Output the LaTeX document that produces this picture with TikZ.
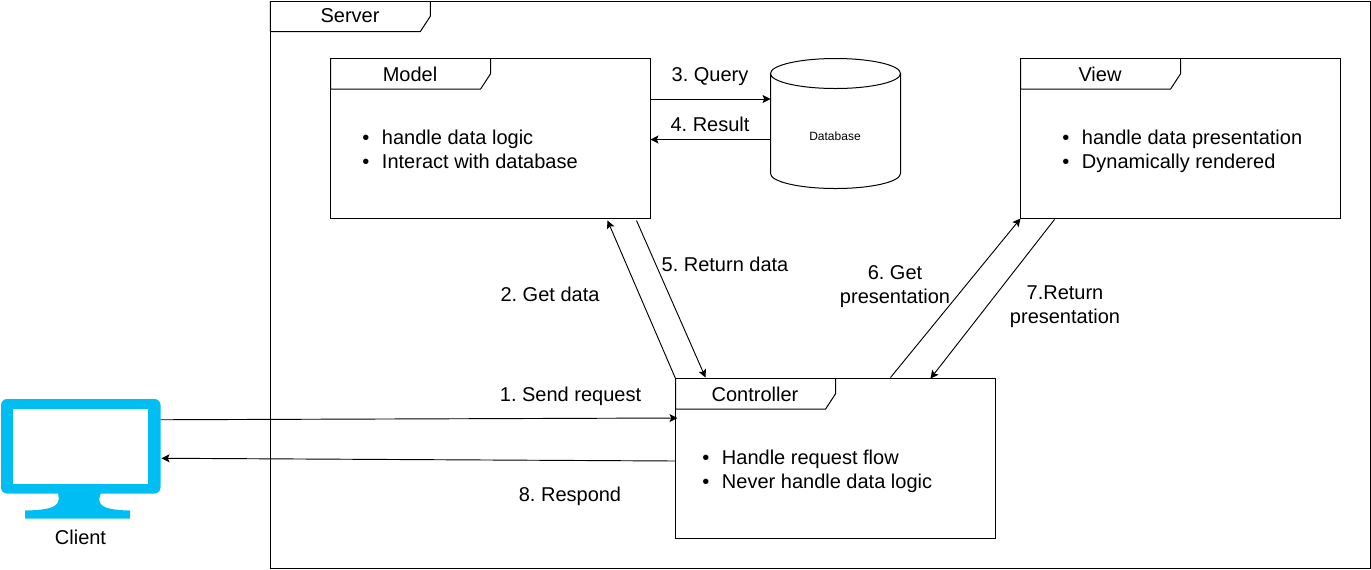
\documentclass[tikz,border=0pt]{standalone}
\usepackage{fontspec}
\setmainfont{Liberation Sans}
\usepackage{tikz}
\usetikzlibrary{calc, positioning}
\usetikzlibrary{shapes.geometric, arrows.meta}
\definecolor{ClientBlue}{HTML}{00BEF2}
\frenchspacing
\tikzset{
    lbl/.style={align=center, inner sep=0pt, font=\fontsize{15pt}{18pt}\selectfont},
    bullets/.style={align=left, anchor=west, inner sep=0pt, font=\fontsize{15pt}{18pt}\selectfont},
    framebox/.style={draw, line width=0.75pt, inner sep=0pt, outer sep=0pt, minimum width=240pt, minimum height=120pt},
    tab/.style={line width=0.75pt},
    link/.style={line width=0.7pt, -{Stealth[length=6pt, width=6pt, inset=1.3pt]}},
}
\newcommand{\frametab}[2][120pt]{
    % tab in the upper left corner of a frame
    \draw[tab] ($(#2.north west)+(#1,0)$) -- ++(0,-11.5pt) -- ++(-7.5pt,-11.5pt) -| (#2.north west);
}
\newcommand{\twoitems}[2]{\textbullet\hspace{9.4pt}#1\strut\\\textbullet\hspace{9.4pt}#2\strut}
\begin{document}
\begin{tikzpicture}[x=0.75pt, y=-0.75pt]
            \useasboundingbox (0,0) rectangle (1371,569);
            % frames
            \node[framebox, minimum width=825pt, minimum height=425.25pt] (server) at (820.25,284.5) {};
            \node[framebox] (model) at (490.5,138.5) {};
            \node[framebox] (view) at (1180.5,138.5) {};
            \node[framebox] (controller) at (835.5,458.5) {};
            \foreach \f in {server, model, view, controller} {
                \frametab{\f}
            }
            \node[lbl] (serverlabel) at (350,16) {Server};
            \node[lbl] (modellabel) at (410,74) {Model};
            \node[lbl] (viewlabel) at (1100,74) {View};
            \node[lbl] (controllerlabel) at (755,394) {Controller};
            \node[bullets] (modeltext) at (362.2,151.5) {\twoitems{handle data logic}{Interact with database}};
            \node[bullets] (viewtext) at (1062.2,151.5) {\twoitems{handle data presentation}{Dynamically rendered}};
            \node[bullets] (controllertext) at (702.2,471.5) {\twoitems{Handle request flow}{Never handle data logic}};
            % database
            \node[inner sep=0pt, outer sep=0pt, minimum width=97.5pt, minimum height=97.5pt] (database) at (835.5,123.5) {};
            \draw[line width=0.75pt] (770.5,73.5) -- (770.5,173.5) arc[start angle=180, end angle=360, x radius=65, y radius=-15]
                -- (900.5,73.5) arc[start angle=0, end angle=180, x radius=65, y radius=-15]
                arc[start angle=180, end angle=360, x radius=65, y radius=-15];
            \node[inner sep=0pt, font=\fontsize{9pt}{10pt}\selectfont] (databaselabel) at (835,136) {Database};
            % client
            \begin{scope}[ClientBlue]
                \fill[rounded corners=4.5pt] (1,399) rectangle (160.5,493.5);
                \fill[white] (12.5,408.5) rectangle (148,484);
                \fill (58,493) .. controls (60,503) and (60,510) .. (25,510.5) -- (25,518.5) -- (130,518.5) -- (130,510.5)
                    .. controls (98,510) and (97,503) .. (101,493) -- cycle;
                \node[draw=none, inner sep=0pt, minimum width=119.25pt, minimum height=70.5pt] (client) at (80.75,446.25) {};
            \end{scope}
            \node[lbl] (clientlabel) at (80.5,537) {Client};
            % connectors
            \draw[link] ($(client.east)+(0,-26.5)$) -- ($(controller.west)+(2,-40.5)$);
            \draw[link] ($(controller.west)+(0,2.5)$) -- ($(client.east)+(1,12)$);
            \draw[link] (controller.north west) -- ($(model.south west)+(277,2)$);
            \draw[link] ($(model.south east)+(-14,2)$) -- ($(controller.north west)+(30,-1)$);
            \draw[link] ($(controller.north west)+(215,-1)$) -- (view.south west);
            \draw[link] ($(view.south west)+(34,1)$) -- ($(controller.north west)+(255,0)$);
            \draw[link] ($(model.east)+(0,-39.5)$) -- ($(database.west)+(0,-24.5)$);
            \draw[link] ($(database.west)+(0,16)$) -- ($(model.east)+(0,1)$);
            % step labels
            \node[lbl] (send) at (570.5,396) {1. Send request};
            \node[lbl] (getdata) at (550,294.5) {2. Get data};
            \node[lbl] (query) at (710,77) {3. Query};
            \node[lbl] (result) at (710,124) {4. Result};
            \node[lbl] (returndata) at (725,264) {5. Return data};
            \node[lbl] (getpres) at (895,287) {6. Get\\presentation};
            \node[lbl] (returnpres) at (1065,307) {7.Return\\presentation};
            \node[lbl] (respond) at (570,496) {8. Respond};
        \end{tikzpicture}
\end{document}
